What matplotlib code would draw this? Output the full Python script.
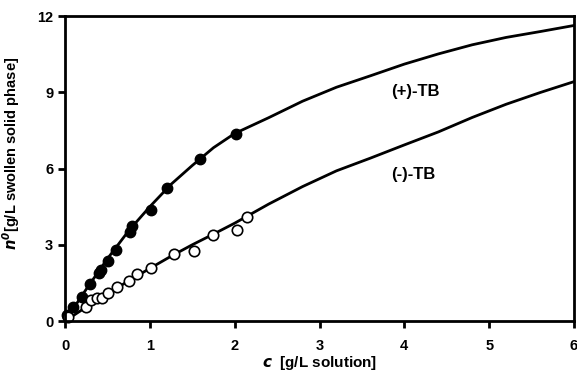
import matplotlib
matplotlib.use("Agg")
import matplotlib.pyplot as plt

plt.rcParams['font.family'] = ['Liberation Sans', 'DejaVu Sans']
plt.rcParams['font.weight'] = 'bold'

# measured points, (+)-TB (filled) and (-)-TB (open)
c_plus = [0.02, 0.09, 0.2, 0.29, 0.4, 0.42, 0.51, 0.6, 0.77, 0.79, 1.01, 1.2, 1.59, 2.02]
n_plus = [0.22, 0.54, 0.96, 1.45, 1.9, 2.0, 2.38, 2.8, 3.52, 3.75, 4.37, 5.22, 6.38, 7.35]

c_minus = [0.04, 0.25, 0.31, 0.38, 0.43, 0.51, 0.61, 0.76, 0.85, 1.01, 1.29, 1.52, 1.74, 2.03, 2.15]
n_minus = [0.15, 0.56, 0.83, 0.92, 0.92, 1.11, 1.33, 1.57, 1.84, 2.07, 2.64, 2.76, 3.39, 3.58, 4.1]

# model curves
c_fit = [0, 0.25, 0.5, 0.75, 1.0, 1.25, 1.5, 1.75, 2.0, 2.4, 2.8, 3.2, 3.6, 4.0, 4.4, 4.8, 5.2, 5.6, 6.0]
n_fit_plus = [0, 1.25, 2.45, 3.55, 4.5, 5.38, 6.12, 6.82, 7.38, 8.0, 8.65, 9.2, 9.65, 10.11, 10.51, 10.87, 11.16, 11.39, 11.63]
n_fit_minus = [0, 0.55, 1.07, 1.58, 2.07, 2.55, 3.0, 3.42, 3.85, 4.6, 5.29, 5.91, 6.41, 6.93, 7.44, 8.01, 8.53, 8.99, 9.42]

fig = plt.figure(figsize=(5.77, 3.74), dpi=100)
ax = fig.add_axes([0.1127, 0.1417, 0.8821, 0.8153])

ax.plot(c_fit, n_fit_plus, color='black', lw=2)
ax.plot(c_fit, n_fit_minus, color='black', lw=2)
ax.plot(c_plus, n_plus, 'o', color='black', ms=7.5, mec='black', clip_on=False)
ax.plot(c_minus, n_minus, 'o', mfc='white', mec='black', mew=1.2, ms=7.5, clip_on=False)

ax.text(4.13, 9.05, '(+)-TB', fontsize=12, fontweight='bold', ha='center', va='center')
ax.text(4.1, 5.77, '(-)-TB', fontsize=12, fontweight='bold', ha='center', va='center')

ax.set_xlim(0, 6)
ax.set_ylim(0, 12)
ax.set_xticks([0, 1, 2, 3, 4, 5, 6])
ax.set_yticks([0, 3, 6, 9, 12])
ax.tick_params(direction='out', length=5, width=2, labelsize=10.5)
ax.tick_params(axis='x', pad=8)
for s in ax.spines.values():
    s.set_linewidth(2)

ax.set_xlabel(r'$\mathbfit{c}$  [g/L solution]', fontsize=11, fontweight='bold', labelpad=1)
ax.set_ylabel(r'$\mathbfit{n}^{\mathbfit{0}}$[g/L swollen solid phase]', fontsize=10.5,
              fontweight='bold')
ax.yaxis.set_label_coords(-0.085, 0.548)

fig.savefig('out.png', dpi=100)
